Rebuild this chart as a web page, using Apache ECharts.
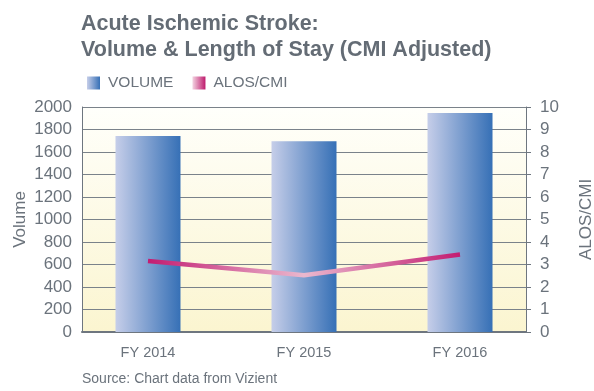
<!DOCTYPE html>
<html>
<head>
<meta charset="utf-8">
<script src="https://cdn.jsdelivr.net/npm/echarts@6/dist/echarts.min.js"></script>
<style>
  html, body { margin: 0; padding: 0; background: #ffffff; }
  #chart { width: 594px; height: 391px; }
</style>
</head>
<body>
<div id="chart"></div>
<script>
// Fiscal years shown along the bottom
const categories = ['FY 2014', 'FY 2015', 'FY 2016'];
// Case volume per year (left axis)
const volume = [1742, 1695, 1947];
// Average length of stay divided by case mix index (right axis)
const alosCmi = [3.16, 2.52, 3.44];
// Left and right axis ranges
const volumeAxis = { min: 0, max: 2000, step: 200 };
const alosAxis = { min: 0, max: 10, step: 1 };

const grey = '#6b737c';
const axisGrey = '#6e767f';
const font = "'Liberation Sans', Arial, sans-serif";

const G = echarts.graphic.LinearGradient;
const barFill = new G(0, 0, 1, 0, [
  { offset: 0, color: '#c6cee9' },
  { offset: 1, color: '#3670b6' }
]);
const lineFill = new G(0, 0, 1, 0, [
  { offset: 0, color: '#c21a70' },
  { offset: 0.5, color: '#eab8ce' },
  { offset: 1, color: '#c21a70' }
]);
const legendPink = new G(0, 0, 1, 0, [
  { offset: 0, color: '#f3d3e1' },
  { offset: 1, color: '#be1a6c' }
]);
const plotFill = new G(0, 0, 0, 1, [
  { offset: 0, color: '#fffffb' },
  { offset: 1, color: '#fbf5d0' }
]);

const chart = echarts.init(document.getElementById('chart'), null, { renderer: 'canvas' });

chart.setOption({
  animation: false,
  backgroundColor: '#ffffff',
  title: {
    text: 'Acute Ischemic Stroke:\nVolume & Length of Stay (CMI Adjusted)',
    left: 76,
    top: 6,
    textStyle: {
      fontFamily: font,
      fontWeight: 'bold',
      fontSize: 21.5,
      lineHeight: 26,
      color: '#646c75'
    }
  },
  legend: {
    left: 82,
    top: 70,
    itemWidth: 13,
    itemHeight: 13,
    itemGap: 19,
    icon: 'rect',
    textStyle: {
      fontFamily: font,
      fontSize: 15.5,
      color: grey,
      padding: [0, 0, 0, 3]
    },
    data: [
      { name: 'VOLUME', itemStyle: { color: barFill } },
      { name: 'ALOS/CMI', itemStyle: { color: legendPink } }
    ]
  },
  grid: {
    left: 82,
    top: 107,
    width: 444,
    height: 225,
    outerBoundsMode: 'none',
    show: true,
    backgroundColor: plotFill,
    borderWidth: 0
  },
  xAxis: {
    type: 'value',
    min: -0.423,
    max: 2.423,
    splitLine: { show: false },
    axisTick: { show: false },
    axisLine: { show: true, onZero: false, lineStyle: { color: axisGrey, width: 2 } },
    axisLabel: {
      customValues: [0, 1, 2],
      formatter: v => categories[Math.round(v)],
      margin: 13,
      fontFamily: font,
      fontSize: 14.5,
      color: grey
    }
  },
  yAxis: [
    {
      type: 'value',
      min: volumeAxis.min,
      max: volumeAxis.max,
      interval: volumeAxis.step,
      name: 'Volume',
      nameLocation: 'middle',
      nameRotate: 90,
      nameGap: 53.5,
      nameMoveOverlap: false,
      nameTextStyle: { fontFamily: font, fontSize: 17, color: grey },
      axisLine: { show: true, onZero: false, lineStyle: { color: axisGrey, width: 1 } },
      axisTick: { show: false },
      axisLabel: {
        margin: 10,
        fontFamily: font,
        fontSize: 17,
        color: grey,
        formatter: v => String(v)
      },
      splitLine: { show: true, lineStyle: { color: '#7a828a', width: 1.2 } }
    },
    {
      type: 'value',
      min: alosAxis.min,
      max: alosAxis.max,
      interval: alosAxis.step,
      name: 'ALOS/CMI',
      nameLocation: 'middle',
      nameRotate: 90,
      nameGap: 52,
      nameMoveOverlap: false,
      nameTextStyle: { fontFamily: font, fontSize: 17, color: grey },
      axisLine: { show: true, onZero: false, lineStyle: { color: axisGrey, width: 1 } },
      axisTick: { show: true, inside: false, length: 5, lineStyle: { color: axisGrey } },
      axisLabel: {
        margin: 14,
        fontFamily: font,
        fontSize: 17,
        color: grey,
        formatter: v => String(v)
      },
      splitLine: { show: false }
    }
  ],
  series: [
    {
      name: 'VOLUME',
      type: 'bar',
      yAxisIndex: 0,
      barWidth: 65,
      itemStyle: { color: barFill },
      data: volume.map((v, i) => [i, v])
    },
    {
      name: 'ALOS/CMI',
      type: 'line',
      yAxisIndex: 1,
      symbol: 'none',
      z: 5,
      itemStyle: { color: legendPink },
      lineStyle: { color: lineFill, width: 4.5 },
      data: alosCmi.map((v, i) => [i, v])
    }
  ],
  graphic: [
    {
      type: 'text',
      left: 82,
      top: 372,
      style: {
        text: 'Source: Chart data from Vizient',
        font: "14px 'Liberation Sans', Arial, sans-serif",
        fill: grey
      }
    }
  ]
});
</script>
</body>
</html>
